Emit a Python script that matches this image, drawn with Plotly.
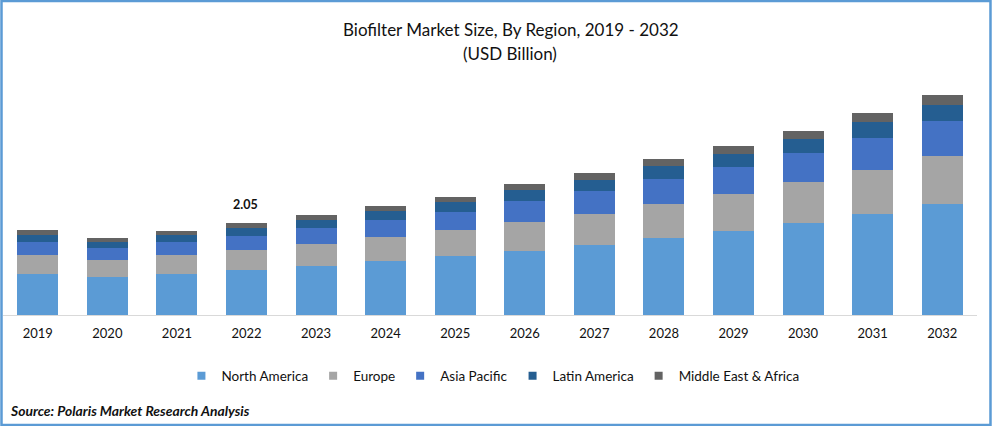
import plotly.graph_objects as go

# Values (USD billion)
years = ['2019', '2020', '2021', '2022', '2023', '2024', '2025', '2026', '2027', '2028', '2029', '2030', '2031', '2032']
north_america = [0.91, 0.85, 0.91, 1.00, 1.09, 1.20, 1.31, 1.43, 1.56, 1.72, 1.87, 2.05, 2.25, 2.48]
europe = [0.42, 0.38, 0.42, 0.45, 0.49, 0.53, 0.58, 0.65, 0.69, 0.76, 0.82, 0.91, 0.98, 1.07]
asia_pacific = [0.29, 0.27, 0.29, 0.31, 0.36, 0.38, 0.40, 0.45, 0.51, 0.54, 0.60, 0.65, 0.71, 0.78]
latin_america = [0.16, 0.13, 0.16, 0.18, 0.18, 0.20, 0.22, 0.25, 0.25, 0.29, 0.29, 0.31, 0.36, 0.36]
middle_east = [0.11, 0.09, 0.09, 0.11, 0.11, 0.11, 0.13, 0.13, 0.16, 0.16, 0.18, 0.18, 0.20, 0.22]

series = [
    ('North America', north_america, '#5B9BD5'),
    ('Europe', europe, '#A5A5A5'),
    ('Asia Pacific', asia_pacific, '#4472C4'),
    ('Latin America', latin_america, '#255E91'),
    ('Middle East & Africa', middle_east, '#636363'),
]

FONT = 'Lato, Carlito, Calibri, sans-serif'
W, H = 992, 426
L, R, T, B = 2.5, 14.5, 70, 111

fig = go.Figure()
for name, values, color in series:
    fig.add_trace(go.Bar(x=years, y=values, name=name, showlegend=False,
                         marker=dict(color=color, line=dict(width=0))))

# Empty traces only for the small square legend keys (bar keys are fixed at 12px)
for name, values, color in series:
    fig.add_trace(go.Scatter(x=[None], y=[None], mode='markers', name=name,
                             marker=dict(color=color, symbol='square', size=8)))

# Label above the 2022 bar (category axes take the index here, not the label)
i_2022 = years.index('2022')
total_2022 = sum(s[1][i_2022] for s in series)
fig.add_annotation(x=i_2022, y=total_2022, text='<b>2.05</b>', showarrow=False, yanchor='bottom', yshift=9, xshift=-1.5,
                   font=dict(family=FONT, size=12.5, color='#111111'))

# Title and source
fig.add_annotation(xref='paper', yref='paper', x=(511 - L) / (W - L - R), y=(H - B - 29) / (H - T - B),
                   text='Biofilter Market Size, By Region, 2019 - 2032', showarrow=False,
                   font=dict(family=FONT, size=17, color='#111111'), yanchor='middle')
fig.add_annotation(xref='paper', yref='paper', x=(510 - L) / (W - L - R), y=(H - B - 53) / (H - T - B),
                   text='(USD Billion)', showarrow=False,
                   font=dict(family=FONT, size=17, color='#111111'), yanchor='middle')
fig.add_annotation(xref='paper', yref='paper', x=(8 - L) / (W - L - R), y=(H - B - 410) / (H - T - B),
                   text='<b><i>Source: Polaris Market Research Analysis</i></b>', showarrow=False,
                   xanchor='left', yanchor='middle', font=dict(family=FONT, size=13.9, color='#111111'))

# Blue frame around the whole picture
fig.add_shape(type='rect', xref='paper', yref='paper',
              x0=(1 - L) / (W - L - R), x1=(W - 1 - L) / (W - L - R),
              y0=(H - B - (H - 1)) / (H - T - B), y1=(H - B - 1) / (H - T - B),
              line=dict(color='#5B9BD5', width=2.5), layer='above')

fig.update_layout(
    width=W, height=H, barmode='stack', bargap=0.41,
    paper_bgcolor='white', plot_bgcolor='white',
    margin=dict(l=L, r=R, t=T, b=B),
    font=dict(family=FONT, size=13, color='#111111'),
    legend=dict(orientation='h', x=0.503, xanchor='center', y=-0.186, yanchor='top', traceorder='normal',
                font=dict(family=FONT, size=13.5, color='#111111')),
)
fig.update_xaxes(type='category', range=[-0.5, 13.5], showline=True, linecolor='#D9D9D9', linewidth=1, showgrid=False,
                 ticks='outside', ticklen=6, tickcolor='rgba(0,0,0,0)',
                 tickfont=dict(family=FONT, size=13, color='#111111'))
fig.update_yaxes(range=[0, 5.46], visible=False, showgrid=False)

fig.write_html('out.html', config=dict(displayModeBar=False), post_script="document.body.style.margin='0';")
